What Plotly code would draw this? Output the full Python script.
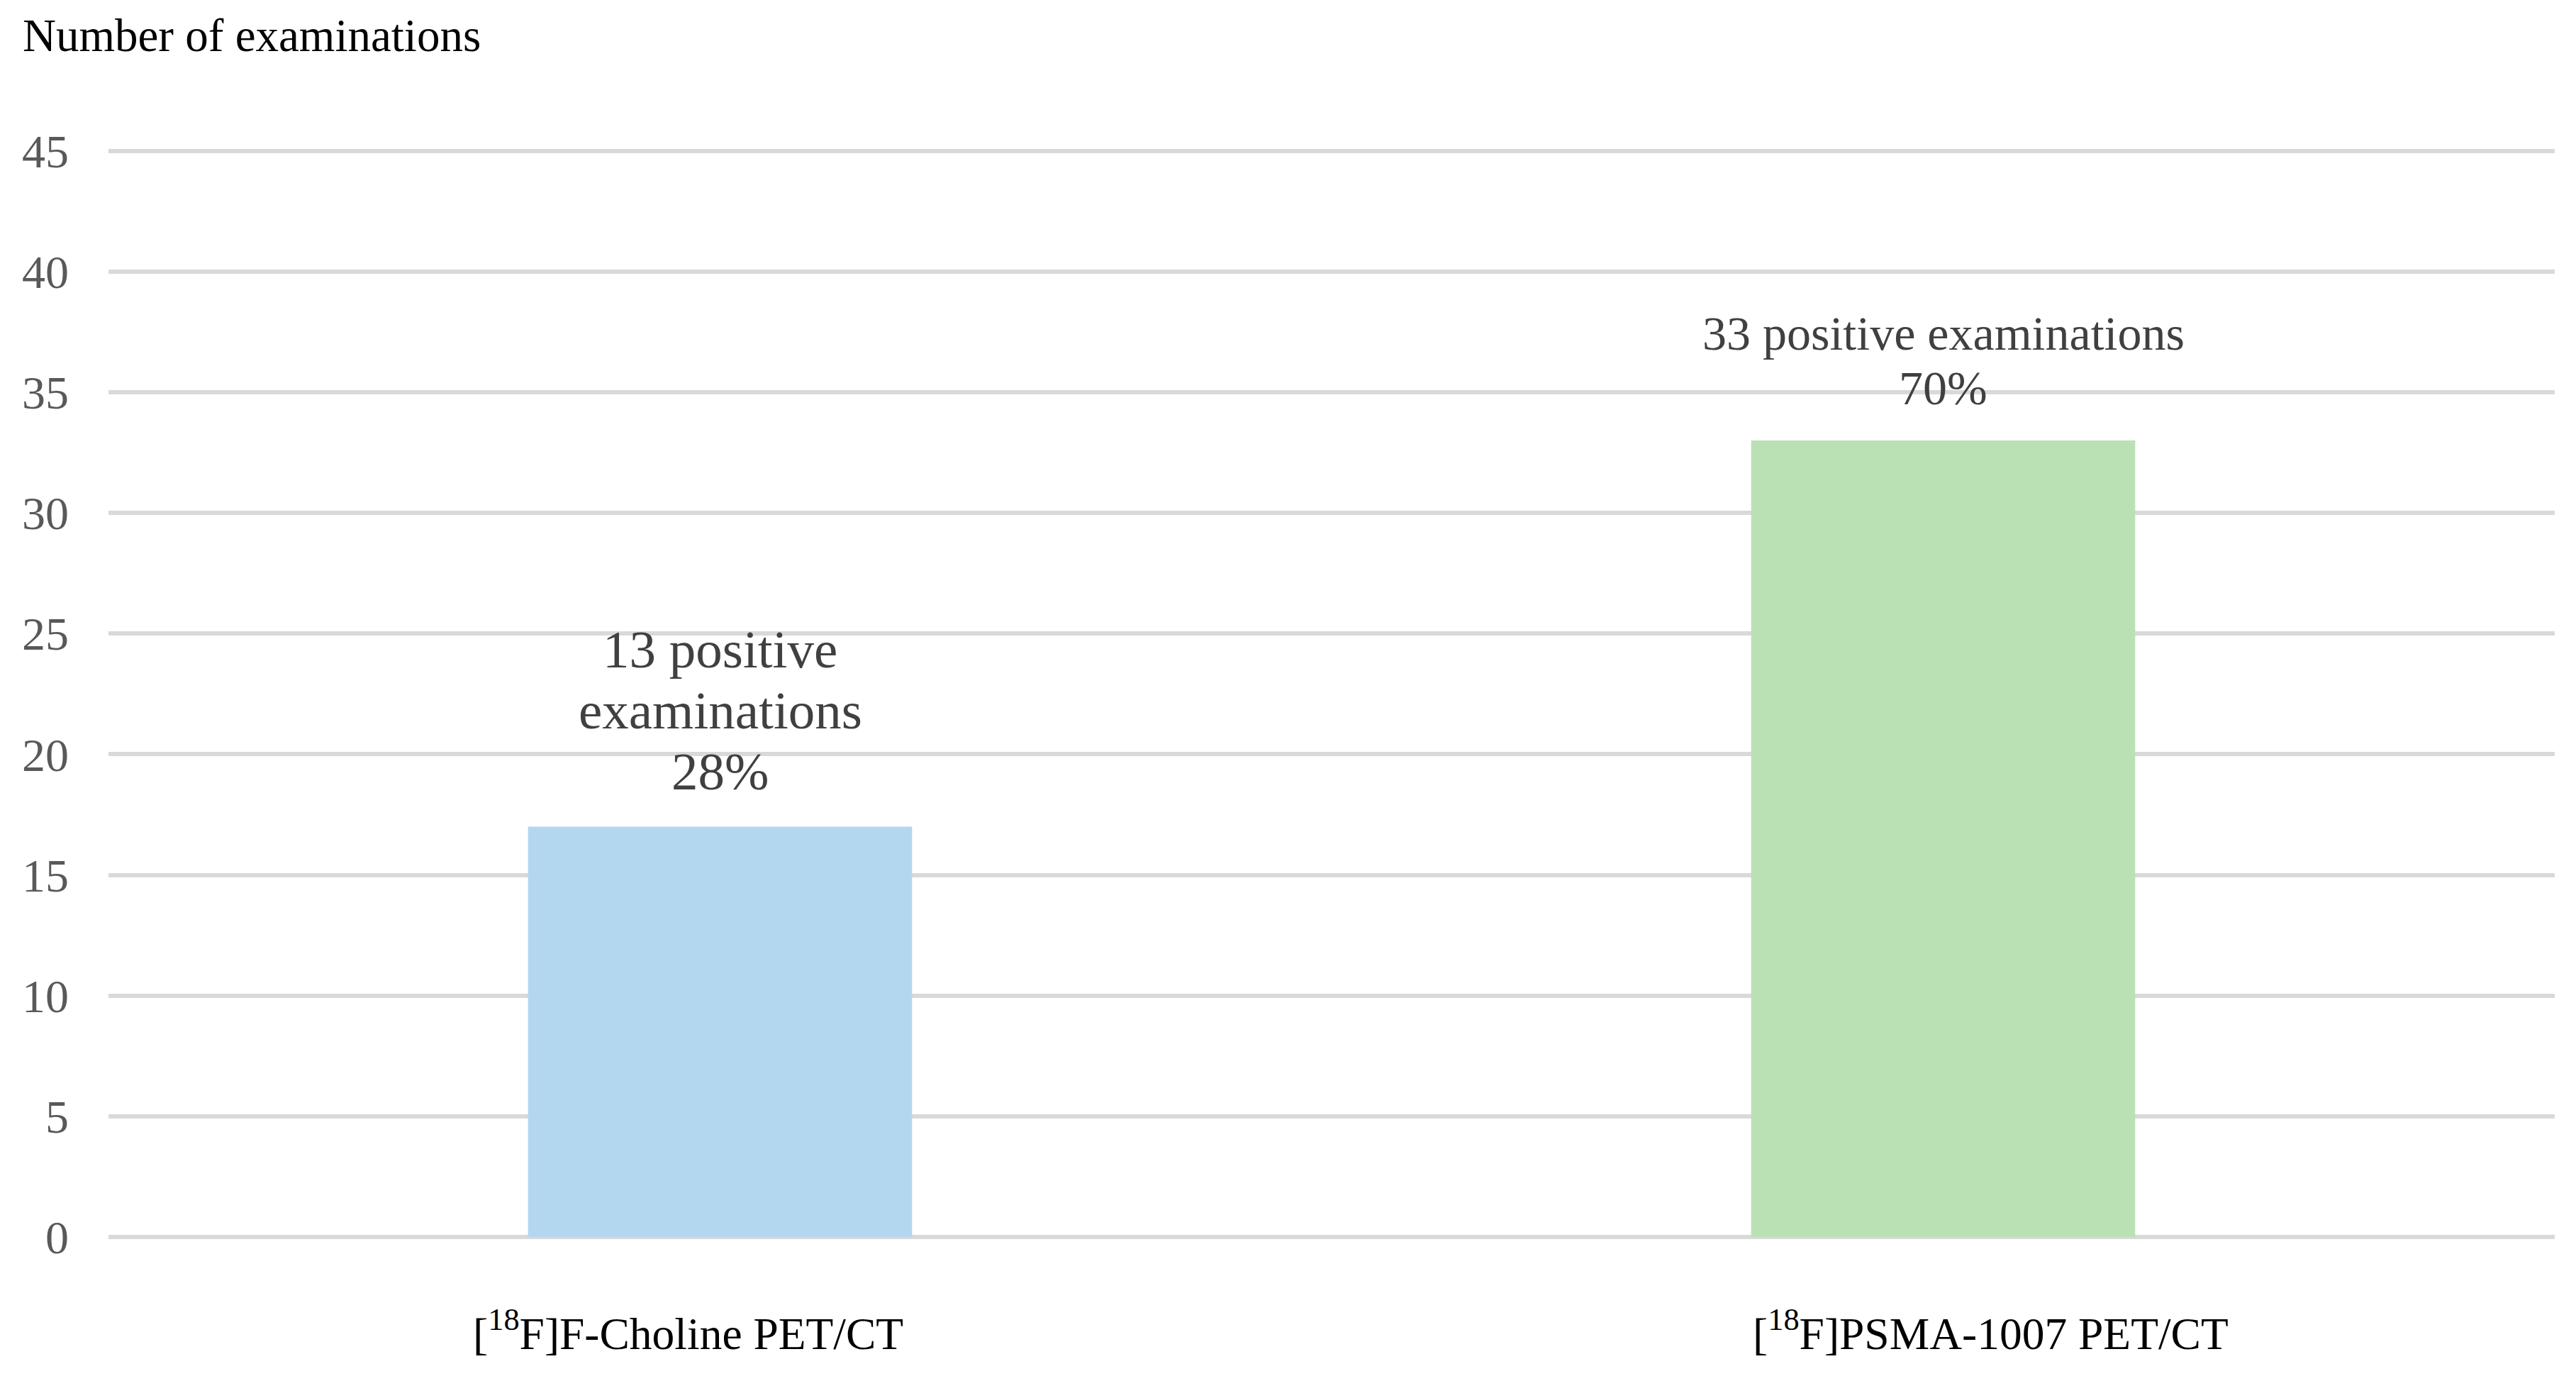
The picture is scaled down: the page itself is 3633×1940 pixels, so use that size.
import plotly.graph_objects as go

# Data
categories = ["[<sup>18</sup>F]F-Choline PET/CT", "[<sup>18</sup>F]PSMA-1007 PET/CT"]
examinations = [17, 33]
bar_colors = ["#b4d7f0", "#bae1b4"]
bar_labels = [["13 positive", "examinations", "28%"],
              ["33 positive examinations", "70%"]]
y_ticks = [0, 5, 10, 15, 20, 25, 30, 35, 40, 45]
y_title = "Number of examinations"

FONT = "Liberation Serif, Times New Roman, serif"

fig = go.Figure()
fig.add_trace(go.Bar(
    x=categories, y=examinations,
    marker=dict(color=bar_colors, line=dict(width=0)),
    width=0.314, hoverinfo="skip", showlegend=False,
))

# Annotation styling per bar
label_fonts = [75, 68]
first_gap = [35, 34]
line_step = [86, 77]

annotations = []
for i, (cat, val, lines) in enumerate(zip(categories, examinations, bar_labels)):
    n = len(lines)
    for j, line in enumerate(lines):
        annotations.append(dict(
            x=cat, y=val, xref="x", yref="y",
            text=line, showarrow=False,
            xanchor="center", yanchor="bottom",
            yshift=first_gap[i] + (n - 1 - j) * line_step[i],
            font=dict(family=FONT, size=label_fonts[i], color="#404040"),
        ))

# Category labels below the axis (offset as in the reference)
cat_xshift = [-45, 67]
for i, cat in enumerate(categories):
    annotations.append(dict(
        x=cat, y=0, xref="x", yref="y",
        text=cat, showarrow=False,
        xanchor="center", yanchor="bottom",
        xshift=cat_xshift[i], yshift=-174,
        font=dict(family=FONT, size=63.5, color="#000000"),
    ))

annotations.append(dict(
    x=0, y=1, xref="paper", yref="paper",
    text=y_title, showarrow=False,
    xanchor="left", yanchor="bottom",
    xshift=-123, yshift=118,
    font=dict(family=FONT, size=65, color="#000000"),
))

fig.update_layout(
    width=3633, height=1940,
    margin=dict(l=145, r=38, t=198, b=204),
    paper_bgcolor="white", plot_bgcolor="white",
    annotations=annotations,
    bargap=0.686,
)

fig.update_xaxes(
    showgrid=False, showline=False, zeroline=False,
    ticks="", showticklabels=False, automargin=False,
)
fig.update_yaxes(
    range=[0, 45.2], tickvals=y_ticks, ticktext=[str(v) for v in y_ticks],
    showgrid=True, gridcolor="#d9d9d9", gridwidth=6,
    zeroline=True, zerolinecolor="#d9d9d9", zerolinewidth=6,
    showline=False, ticks="", automargin=False,
    tickfont=dict(family=FONT, size=66, color="#595959"),
    ticklabelstandoff=55,
)

fig.write_html("out.html")
